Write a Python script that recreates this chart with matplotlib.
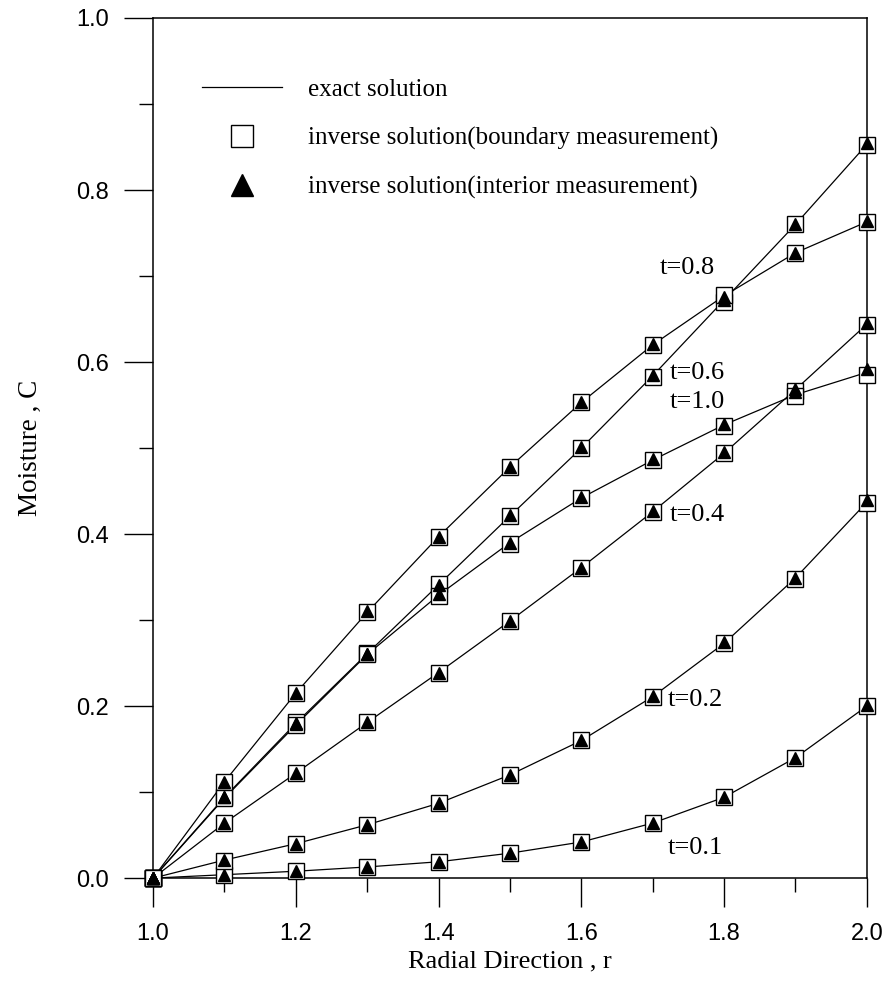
import matplotlib.pyplot as plt
from matplotlib.ticker import MultipleLocator

# radial positions of the computed points
r = [1.0, 1.1, 1.2, 1.3, 1.4, 1.5, 1.6, 1.7, 1.8, 1.9, 2.0]

# exact solution, one list per time level
c_t01 = [0.0, 0.004, 0.008, 0.013, 0.019, 0.029, 0.042, 0.064, 0.094, 0.140, 0.200]
c_t02 = [0.0, 0.021, 0.040, 0.062, 0.087, 0.120, 0.160, 0.211, 0.273, 0.349, 0.437]
c_t04 = [0.0, 0.064, 0.122, 0.181, 0.239, 0.299, 0.361, 0.426, 0.494, 0.568, 0.644]
c_t06 = [0.0, 0.094, 0.180, 0.261, 0.341, 0.421, 0.500, 0.584, 0.672, 0.760, 0.853]
c_t08 = [0.0, 0.112, 0.215, 0.309, 0.397, 0.478, 0.553, 0.620, 0.677, 0.727, 0.763]
c_t10 = [0.0, 0.093, 0.178, 0.260, 0.329, 0.390, 0.442, 0.486, 0.527, 0.562, 0.588]

# inverse solution, boundary measurement (squares)
b_t01 = [0.0, 0.004, 0.008, 0.013, 0.019, 0.029, 0.042, 0.064, 0.094, 0.140, 0.200]
b_t02 = [0.0, 0.020, 0.040, 0.062, 0.087, 0.120, 0.160, 0.211, 0.273, 0.348, 0.436]
b_t04 = [0.0, 0.064, 0.122, 0.181, 0.239, 0.299, 0.360, 0.426, 0.494, 0.566, 0.643]
b_t06 = [0.0, 0.094, 0.181, 0.262, 0.342, 0.421, 0.500, 0.583, 0.670, 0.760, 0.852]
b_t08 = [0.0, 0.112, 0.215, 0.309, 0.397, 0.478, 0.553, 0.620, 0.678, 0.727, 0.763]
b_t10 = [0.0, 0.093, 0.178, 0.260, 0.328, 0.389, 0.442, 0.486, 0.526, 0.560, 0.585]

# inverse solution, interior measurement (triangles)
i_t01 = [0.0, 0.004, 0.008, 0.013, 0.019, 0.029, 0.042, 0.064, 0.094, 0.140, 0.201]
i_t02 = [0.0, 0.021, 0.040, 0.062, 0.087, 0.120, 0.160, 0.212, 0.274, 0.349, 0.440]
i_t04 = [0.0, 0.064, 0.122, 0.181, 0.239, 0.299, 0.361, 0.427, 0.495, 0.569, 0.645]
i_t06 = [0.0, 0.094, 0.180, 0.261, 0.341, 0.422, 0.501, 0.585, 0.672, 0.761, 0.855]
i_t08 = [0.0, 0.112, 0.215, 0.310, 0.397, 0.478, 0.553, 0.621, 0.676, 0.727, 0.764]
i_t10 = [0.0, 0.094, 0.179, 0.261, 0.330, 0.390, 0.443, 0.487, 0.528, 0.565, 0.592]

exact = [c_t01, c_t02, c_t04, c_t06, c_t08, c_t10]
boundary = [b_t01, b_t02, b_t04, b_t06, b_t08, b_t10]
interior = [i_t01, i_t02, i_t04, i_t06, i_t08, i_t10]

# curve labels and where they sit (data coords)
t_labels = ["t=0.1", "t=0.2", "t=0.4", "t=0.6", "t=0.8", "t=1.0"]
t_label_r = [1.759, 1.759, 1.763, 1.763, 1.749, 1.763]
t_label_c = [0.035, 0.207, 0.422, 0.587, 0.709, 0.553]

serif = "Liberation Serif"
sans = "Liberation Sans"

fig = plt.figure(figsize=(8.9, 9.99), dpi=100)
ax = fig.add_axes([0.172, 0.121, 0.802, 0.861])

for c_ex, c_b, c_i in zip(exact, boundary, interior):
    ax.plot(r, c_ex, color="black", linewidth=0.9, zorder=2)
    ax.plot(r, c_b, linestyle="none", marker="s", markersize=11,
            markerfacecolor="white", markeredgecolor="black",
            markeredgewidth=1.0, zorder=3, clip_on=False)
    ax.plot(r, c_i, linestyle="none", marker="^", markersize=8,
            color="black", zorder=4, clip_on=False)

for lab, x, y in zip(t_labels, t_label_r, t_label_c):
    ax.text(x, y, lab, fontsize=19, family=serif, ha="center", va="center")

# legend handles
h_line, = ax.plot([], [], color="black", linewidth=0.9)
h_sq, = ax.plot([], [], linestyle="none", marker="s", markersize=16,
                markerfacecolor="white", markeredgecolor="black", markeredgewidth=1.0)
h_tri, = ax.plot([], [], linestyle="none", marker="^", markersize=16, color="black")
ax.legend([h_line, h_sq, h_tri],
          ["exact solution",
           "inverse solution(boundary measurement)",
           "inverse solution(interior measurement)"],
          loc="upper left", bbox_to_anchor=(0.068, 0.93), frameon=False,
          prop={"family": serif, "size": 18}, handlelength=3.2,
          handletextpad=1.05, labelspacing=1.05, borderpad=0, borderaxespad=0)

ax.set_xlim(1.0, 2.0)
ax.set_ylim(0.0, 1.0)
ax.xaxis.set_major_locator(MultipleLocator(0.2))
ax.xaxis.set_minor_locator(MultipleLocator(0.1))
ax.yaxis.set_major_locator(MultipleLocator(0.2))
ax.yaxis.set_minor_locator(MultipleLocator(0.1))
ax.xaxis.set_major_formatter(lambda v, p: f"{v:.1f}")
ax.yaxis.set_major_formatter(lambda v, p: f"{v:.1f}")

ax.tick_params(which="major", direction="out", length=21, width=1.0,
               top=False, right=False, labelsize=17)
ax.tick_params(which="minor", direction="out", length=10, width=1.0,
               top=False, right=False)
ax.tick_params(axis="x", which="major", pad=11.5)
ax.tick_params(axis="y", which="major", pad=11)
for lbl in ax.get_xticklabels() + ax.get_yticklabels():
    lbl.set_family(sans)

for sp in ax.spines.values():
    sp.set_linewidth(1.1)

ax.set_xlabel("Radial Direction , r", fontsize=19, family=serif, labelpad=4)
ax.set_ylabel("Moisture , C", fontsize=19.5, family=serif, labelpad=24)

fig.savefig("out.png", dpi=100)
